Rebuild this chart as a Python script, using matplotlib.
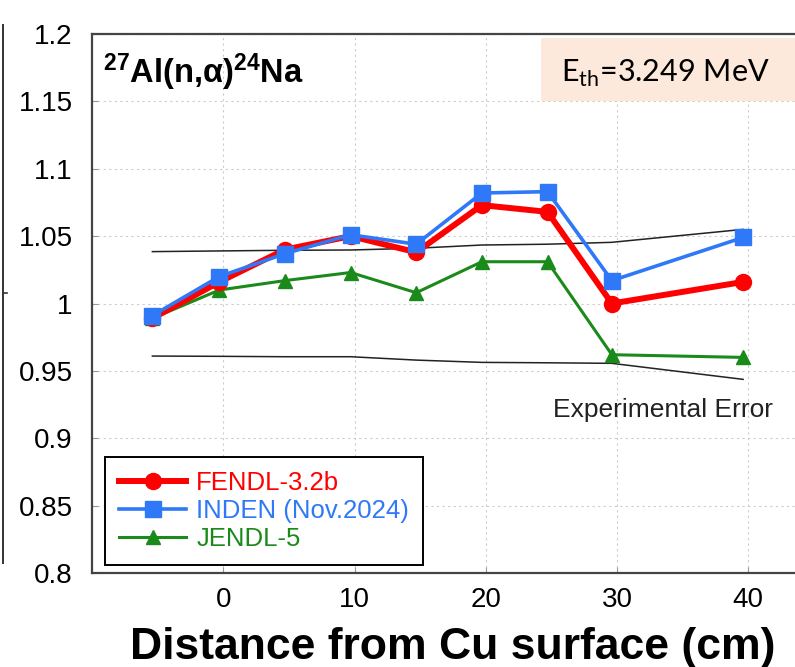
import matplotlib
matplotlib.use("Agg")
import matplotlib.pyplot as plt
from matplotlib.patches import Rectangle
from matplotlib.lines import Line2D

# ---- data ----
distance = [-5.4, -0.3, 4.7, 9.7, 14.7, 19.7, 24.7, 29.6, 39.6]
fendl = [0.989, 1.016, 1.040, 1.050, 1.038, 1.073, 1.068, 1.000, 1.016]
inden = [0.991, 1.020, 1.037, 1.051, 1.044, 1.082, 1.083, 1.017, 1.049]
jendl = [0.989, 1.010, 1.017, 1.023, 1.008, 1.031, 1.031, 0.962, 0.960]
err_upper = [1.0385, 1.039, 1.0395, 1.0397, 1.041, 1.0434, 1.044, 1.0454, 1.055]
err_lower = [0.961, 0.9608, 0.9605, 0.9605, 0.958, 0.9563, 0.956, 0.9556, 0.9437]
x_ticks = [0, 10, 20, 30, 40]
y_ticks = [0.8, 0.85, 0.9, 0.95, 1.0, 1.05, 1.1, 1.15, 1.2]
y_tick_labels = ["0.8", "0.85", "0.9", "0.95", "1", "1.05", "1.1", "1.15", "1.2"]
series_names = ["FENDL-3.2b", "INDEN (Nov.2024)", "JENDL-5"]

plt.rcParams['font.family'] = ['Liberation Sans', 'DejaVu Sans']
plt.rcParams['mathtext.fontset'] = 'custom'
plt.rcParams['mathtext.bf'] = 'Liberation Sans:bold'
plt.rcParams['mathtext.rm'] = 'Lato'

W, H = 795, 667
fig = plt.figure(figsize=(W / 100, H / 100), dpi=100)
ax_left, ax_top, ax_bottom = 92, 34, 573
ax_width = 722
ax = fig.add_axes([ax_left / W, 1 - ax_bottom / H, ax_width / W, (ax_bottom - ax_top) / H])

red = '#ff0000'
blue = '#2f78f8'
green = '#1a8a1a'

ax.plot(distance, fendl, color=red, lw=4.3, marker='o', ms=11.5, label=series_names[0], zorder=4)
ax.plot(distance, inden, color=blue, lw=2.6, marker='s', ms=11, label=series_names[1], zorder=5)
ax.plot(distance, jendl, color=green, lw=2.2, marker='^', ms=10, label=series_names[2], zorder=3)
ax.plot(distance, err_upper, color='#222222', lw=1.1, zorder=2)
ax.plot(distance, err_lower, color='#222222', lw=1.1, zorder=2)

ax.set_xlim(-10, 45)
ax.set_ylim(0.8, 1.2)
ax.set_xticks(x_ticks)
ax.set_yticks(y_ticks)
ax.set_yticklabels(y_tick_labels)
ax.tick_params(axis='both', direction='in', length=4, color='#999999', labelsize=20)
ax.tick_params(axis='y', pad=14)
ax.tick_params(axis='x', pad=10)
ax.grid(True, linestyle=(0, (2, 3)), color='#cccccc', lw=0.8)
for s in ['top', 'bottom', 'left', 'right']:
    ax.spines[s].set_color('#444444')
    ax.spines[s].set_linewidth(1.6)

ax.set_xlabel("Distance from Cu surface (cm)", fontsize=32, fontweight='bold', labelpad=10)

ax.text(0.015, 0.909, r"$\mathbf{^{27}Al(n{,}α)^{24}Na}$", transform=ax.transAxes,
        fontsize=23.5, ha='left', va='baseline')
ax.text(25.1, 0.9158, "Experimental Error", fontsize=19, ha='left', va='baseline', color='#222222')

leg = ax.legend(loc='lower left', bbox_to_anchor=(0.018, 0.0148), fontsize=18.5,
                frameon=True, fancybox=False, edgecolor='black', framealpha=1,
                handlelength=2.6, labelspacing=0.15, borderpad=0.55, handletextpad=0.4,
                labelcolor='linecolor', borderaxespad=0)
leg.get_frame().set_linewidth(1.4)

# threshold energy box
fig.patches.append(Rectangle((541 / W, 1 - 101 / H), 300 / W, 63 / H, transform=fig.transFigure,
                             facecolor='#fde9db', edgecolor='none', zorder=10))
fig.text(561 / W, 1 - 82 / H, r"E$_{\mathrm{th}}$=3.249 MeV", fontsize=22, family='Lato',
         ha='left', va='baseline', zorder=11)

# stray frame line at left edge
fig.add_artist(Line2D([3 / W, 3 / W], [1 - 25 / H, 1 - 563 / H], transform=fig.transFigure,
                      color='#333333', lw=1.4))
fig.add_artist(Line2D([3 / W, 7 / W], [1 - 293 / H, 1 - 293 / H], transform=fig.transFigure,
                      color='#333333', lw=1.2))

fig.savefig("out.png", dpi=100)
